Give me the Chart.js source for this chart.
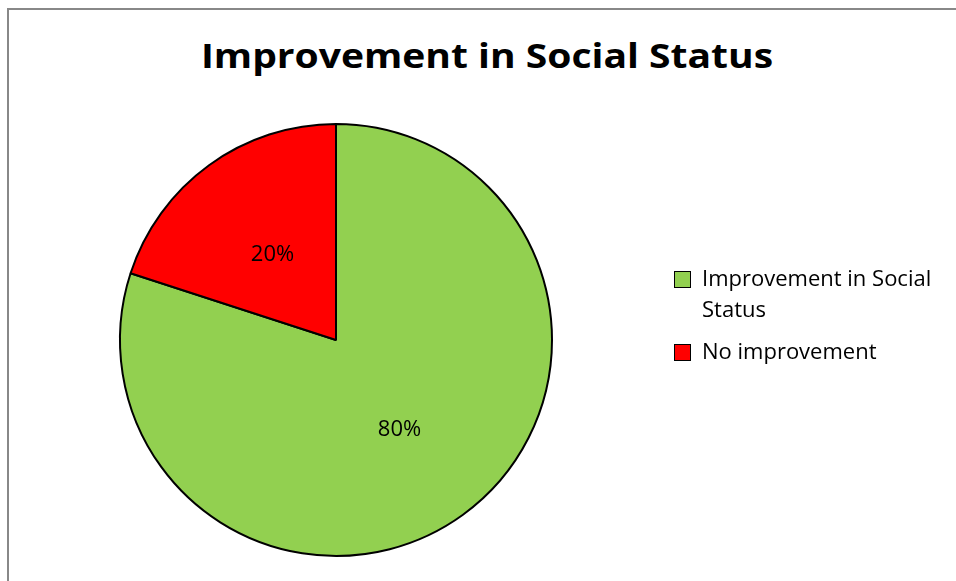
<!DOCTYPE html>
<html>
<head>
<meta charset="utf-8">
<script src="https://cdn.jsdelivr.net/npm/chart.js@4/dist/chart.umd.min.js"></script>
<style>
  html, body { margin: 0; padding: 0; background: #fff; overflow: hidden; }
  #frame {
    position: absolute; left: 7px; top: 8px;
    width: 960px; height: 600px;
    border: 2px solid #888; background: #fff;
  }
  #chartTitle {
    position: absolute; left: 0; width: 956px; top: 22px;
    text-align: center; font-family: "Open Sans", sans-serif; font-weight: bold;
    font-size: 34px; color: #000; white-space: nowrap;
    transform: scaleX(1.148); transform-origin: 478px 0;
  }
  #myChart { position: absolute; left: 1px; top: 0; }
  #legend {
    position: absolute; left: 665px; top: 252px; width: 282px;
    font-family: "Open Sans", sans-serif; font-size: 22px; line-height: 31px; color: #000;
  }
  .item { position: relative; padding-left: 28px; margin-bottom: 11px; }
  .item .box {
    position: absolute; left: 0; top: 9px;
    width: 15px; height: 15px; border: 1px solid #000;
  }
</style>
</head>
<body>
<div id="frame">
  <div id="chartTitle"></div>
  <canvas id="myChart" width="946" height="571"></canvas>
  <div id="legend"></div>
</div>
<script>
// chart data
var titleText = 'Improvement in Social Status';
var labels = ['Improvement in Social Status', 'No improvement'];
var values = [80, 20];
var colors = ['#92D050', '#FF0000'];

document.getElementById('chartTitle').textContent = titleText;

// legend on the right, the long label wraps onto two lines
var legend = document.getElementById('legend');
for (var i = 0; i < labels.length; i++) {
    var item = document.createElement('div');
    item.className = 'item';
    var box = document.createElement('span');
    box.className = 'box';
    box.style.background = colors[i];
    item.appendChild(box);
    item.appendChild(document.createTextNode(labels[i]));
    legend.appendChild(item);
}

// percent labels in the middle of each slice
var percentLabels = {
    id: 'percentLabels',
    afterDatasetsDraw: function(chart) {
        var ctx = chart.ctx;
        var meta = chart.getDatasetMeta(0);
        var total = values.reduce(function(a, b) { return a + b; }, 0);
        ctx.save();
        ctx.font = '22px "Open Sans", sans-serif';
        ctx.fillStyle = '#000';
        ctx.textAlign = 'center';
        ctx.textBaseline = 'middle';
        meta.data.forEach(function(arc, idx) {
            var p = arc.getCenterPoint();
            var pct = Math.round(values[idx] / total * 100) + '%';
            ctx.fillText(pct, p.x, p.y + 2);
        });
        ctx.restore();
    }
};

var ctx = document.getElementById('myChart').getContext('2d');
var myChart = new Chart(ctx, {
    type: 'pie',
    data: {
        labels: labels,
        datasets: [{
            data: values,
            backgroundColor: colors,
            borderColor: '#000',
            borderWidth: 2
        }]
    },
    options: {
        responsive: false,
        animation: false,
        devicePixelRatio: 1,
        layout: {
            padding: { top: 113, bottom: 24, left: 0, right: 294 }
        },
        plugins: {
            legend: { display: false },
            title: { display: false },
            tooltip: { enabled: false }
        }
    },
    plugins: [percentLabels]
});
</script>
</body>
</html>
